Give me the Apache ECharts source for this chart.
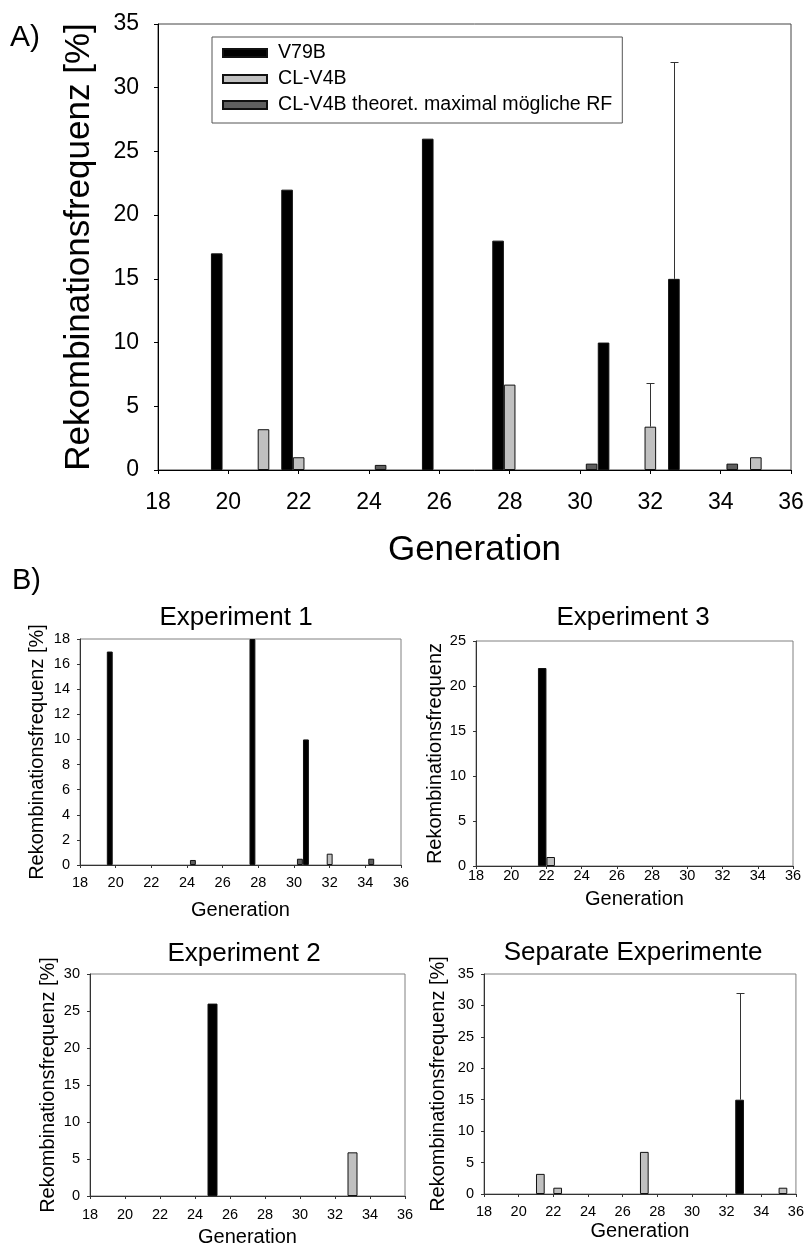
<!DOCTYPE html>
<html>
<head>
<meta charset="utf-8">
<script src="https://cdn.jsdelivr.net/npm/echarts@6/dist/echarts.min.js"></script>
<style>
  html, body { margin: 0; padding: 0; background: #fff; }
  #chart { width: 807px; height: 1248px; }
</style>
</head>
<body>
<div id="chart"></div>
<script>
// ---- data (generation, Rekombinationsfrequenz %) ----
var seriesNames = ['V79B', 'CL-V4B', 'CL-V4B theoret. maximal mögliche RF'];
var genTicks = [18, 20, 22, 24, 26, 28, 30, 32, 34, 36];

// A) all experiments
var aGenV79B = [20, 22, 26, 28, 31, 33];
var aValV79B = [17, 22, 26, 18, 10, 15];
var aGenCL = [21, 22, 28, 32, 35];
var aValCL = [3.2, 1.0, 6.7, 3.4, 1.0];
var aGenMax = [24, 30, 34];
var aValMax = [0.4, 0.5, 0.5];
var aErrV79B = [[33, 15, 32]];     // generation, value, upper end
var aErrCL = [[32, 3.4, 6.8]];

// B) Experiment 1
var e1GenV79B = [20, 28, 31];
var e1ValV79B = [17, 18, 10];
var e1GenCL = [32];
var e1ValCL = [0.9];
var e1GenMax = [24, 30, 34];
var e1ValMax = [0.4, 0.5, 0.5];

// B) Experiment 3
var e3GenV79B = [22];
var e3ValV79B = [22];
var e3GenCL = [22];
var e3ValCL = [1.0];

// B) Experiment 2
var e2GenV79B = [25];
var e2ValV79B = [26];
var e2GenCL = [33];
var e2ValCL = [5.9];

// B) Separate Experimente
var sGenV79B = [33];
var sValV79B = [15];
var sGenCL = [21, 22, 27, 35];
var sValCL = [3.2, 1.0, 6.7, 1.0];
var sErrV79B = [[33, 15, 32]];

// ---- chart ----
var FONT = '"Liberation Sans", Arial, sans-serif';
var colors = ['#000000', '#c0c0c0', '#5f5f5f'];
var chart = echarts.init(document.getElementById('chart'));

function pairs(gens, vals) {
    return gens.map(function (g, i) { return [g, vals[i]]; });
}

function bar(nameIdx, gi, gens, vals, width, gap) {
    return {
        type: 'bar',
        name: seriesNames[nameIdx],
        xAxisIndex: gi,
        yAxisIndex: gi,
        data: pairs(gens, vals),
        barWidth: width,
        barGap: gap,
        itemStyle: { color: colors[nameIdx], borderColor: '#111', borderWidth: 1 },
        emphasis: { disabled: true }
    };
}

// error bar, only the upper half like in the original
function errBar(gi, data, offset, cap) {
    return {
        type: 'custom',
        xAxisIndex: gi,
        yAxisIndex: gi,
        data: data,
        encode: { x: 0, y: [1, 2] },
        z: 5,
        renderItem: function (params, api) {
            var lo = api.coord([api.value(0), api.value(1)]);
            var hi = api.coord([api.value(0), api.value(2)]);
            var x = Math.round(lo[0] + offset) + 0.5;
            var yt = Math.round(hi[1]) + 0.5;
            var st = { stroke: '#333', lineWidth: 1 };
            return {
                type: 'group',
                children: [
                    { type: 'line', shape: { x1: x, y1: lo[1], x2: x, y2: yt }, style: st },
                    { type: 'line', shape: { x1: x - cap, y1: yt, x2: x + cap, y2: yt }, style: st }
                ]
            };
        }
    };
}

var grids = [
    { left: 158, top: 24, width: 633, height: 446 },
    { left: 80, top: 639, width: 321, height: 226 },
    { left: 476, top: 641, width: 317, height: 225 },
    { left: 90, top: 974, width: 315, height: 222 },
    { left: 484, top: 974, width: 314, height: 220 }
];
var yMax = [35, 18, 25, 30, 35];
var yStep = [5, 2, 5, 5, 5];
var yNames = ['Rekombinationsfrequenz [%]', 'Rekombinationsfrequenz [%]', 'Rekombinationsfrequenz',
    'Rekombinationsfrequenz [%]', 'Rekombinationsfrequenz [%]'];
var xLabelMargin = [21, 10, 2, 11, 10];
var xNameGap = [63, 35, 23, 31, 27];
var yNameGap = [61, 33, 30, 32, 36];

var xAxes = [], yAxes = [];
grids.forEach(function (g, i) {
    var big = i === 0;
    var lineColor = big ? '#000' : '#333';
    g.show = true;
    g.borderColor = big ? '#444' : '#808080';
    g.borderWidth = 1;
    g.containLabel = false;
    xAxes.push({
        type: 'value', gridIndex: i, min: genTicks[0], max: genTicks[genTicks.length - 1], interval: 2,
        name: 'Generation', nameLocation: 'middle', nameGap: xNameGap[i],
        nameTextStyle: { fontFamily: FONT, fontSize: big ? 35 : 20, color: '#000' },
        axisLine: { show: true, onZero: false, lineStyle: { color: lineColor, width: 1 } },
        axisTick: { show: true, length: big ? 4 : 3, lineStyle: { color: lineColor } },
        axisLabel: { fontFamily: FONT, fontSize: big ? 23 : 14.5, color: '#000', margin: xLabelMargin[i] },
        splitLine: { show: false }
    });
    yAxes.push({
        type: 'value', gridIndex: i, min: 0, max: yMax[i], interval: yStep[i],
        name: yNames[i], nameLocation: 'middle', nameGap: yNameGap[i], nameRotate: 90,
        nameTextStyle: { fontFamily: FONT, fontSize: big ? 35 : 20, color: '#000' },
        axisLine: { show: true, lineStyle: { color: lineColor, width: 1 } },
        axisTick: { show: true, length: big ? 4 : 3, lineStyle: { color: lineColor } },
        axisLabel: { fontFamily: FONT, fontSize: big ? 23 : 14.5, color: '#000', margin: big ? 19 : 10 },
        splitLine: { show: false }
    });
});

var series = [
    // A
    bar(0, 0, aGenV79B, aValV79B, 11.6, 0),
    bar(1, 0, aGenCL, aValCL, 11.6, 0),
    bar(2, 0, aGenMax, aValMax, 11.6, 0),
    errBar(0, aErrV79B, -11.6, 4),
    errBar(0, aErrCL, 0, 4),
    // Experiment 1
    bar(0, 1, e1GenV79B, e1ValV79B, 5.9, 0),
    bar(1, 1, e1GenCL, e1ValCL, 5.9, 0),
    bar(2, 1, e1GenMax, e1ValMax, 5.9, 0),
    // Experiment 3
    bar(0, 2, e3GenV79B, e3ValV79B, 8.5, 0),
    bar(1, 2, e3GenCL, e3ValCL, 8.5, 0),
    // Experiment 2
    bar(0, 3, e2GenV79B, e2ValV79B, 10, '-100%'),
    bar(1, 3, e2GenCL, e2ValCL, 10, '-100%'),
    // Separate Experimente
    bar(0, 4, sGenV79B, sValV79B, 8.7, 0),
    bar(1, 4, sGenCL, sValCL, 8.7, 0),
    errBar(4, sErrV79B, -4.35, 4)
];

function label(text, x, y, size, align) {
    return {
        type: 'text', x: x, y: y, silent: true,
        style: { text: text, fontFamily: FONT, fontSize: size, fill: '#000', align: align || 'center', verticalAlign: 'middle' }
    };
}

chart.setOption({
    animation: false,
    backgroundColor: '#fff',
    grid: grids,
    xAxis: xAxes,
    yAxis: yAxes,
    legend: {
        data: seriesNames,
        orient: 'vertical',
        left: 212,
        top: 37,
        padding: [6, 10, 8, 10],
        itemWidth: 44,
        itemHeight: 8,
        itemGap: 6,
        icon: 'rect',
        selectedMode: false,
        borderColor: '#555',
        borderWidth: 1,
        backgroundColor: '#fff',
        textStyle: { fontFamily: FONT, fontSize: 19.6, color: '#000', padding: [0, 0, 0, 6] }
    },
    graphic: [
        label('A)', 10, 38, 30, 'left'),
        label('B)', 12, 581, 29, 'left'),
        label('Experiment 1', 236, 618, 26),
        label('Experiment 3', 633, 618, 26),
        label('Experiment 2', 244, 954, 26),
        label('Separate Experimente', 633, 953, 26)
    ],
    series: series
});

window.addEventListener('resize', function () {
    chart.resize();
});
</script>
</body>
</html>
